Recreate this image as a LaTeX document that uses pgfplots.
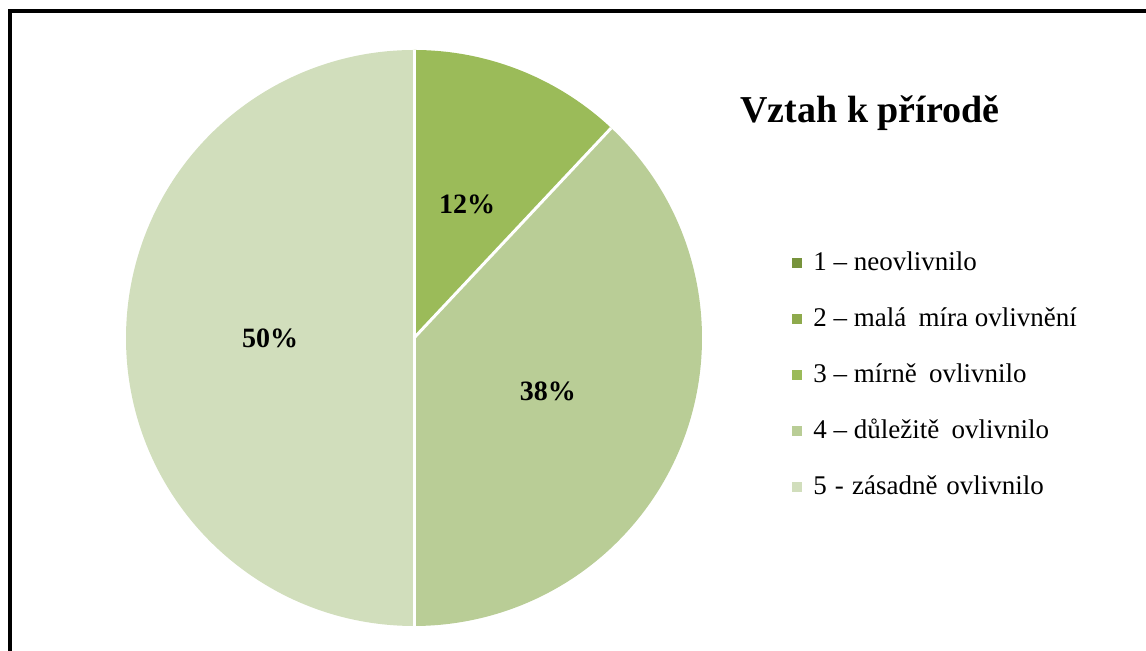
\documentclass[border=0pt]{standalone}
\usepackage{fontspec}
\setmainfont{Liberation Serif}
\usepackage{pgfplots}
\usepackage{pgfplotstable}
\pgfplotsset{compat=1.18}

\definecolor{c1}{HTML}{77933C}
\definecolor{c2}{HTML}{8EAA4C}
\definecolor{c3}{HTML}{9BBB59}
\definecolor{c4}{HTML}{B9CD96}
\definecolor{c5}{HTML}{D1DEBC}

% share of answers, in percent
\pgfplotstableread{
cat value
1 0
2 0
3 12
4 38
5 50
}\pietable

\newcommand\wsp{\hspace{0.45em}}

\begin{document}
\begin{tikzpicture}
\useasboundingbox (0,0) rectangle (573pt,325.5pt);

\pgfplotstablegetelem{2}{value}\of\pietable \let\vC\pgfplotsretval
\pgfplotstablegetelem{3}{value}\of\pietable \let\vD\pgfplotsretval
\pgfplotstablegetelem{4}{value}\of\pietable \let\vE\pgfplotsretval
% slices run clockwise from the top
\pgfmathsetmacro\aC{90}
\pgfmathsetmacro\bC{\aC-3.6*\vC}
\pgfmathsetmacro\bD{\bC-3.6*\vD}
\pgfmathsetmacro\bE{\bD-3.6*\vE}
\pgfmathsetmacro\mC{(\aC+\bC)/2}
\pgfmathsetmacro\mD{(\bC+\bD)/2}
\pgfmathsetmacro\mE{(\bD+\bE)/2}

\begin{axis}[
  hide axis,
  at={(0,0)}, anchor=south west,
  x=0.5pt, y=0.5pt,
  xmin=0, xmax=1146, ymin=0, ymax=651,
  clip=false,
  legend style={
    at={(0.6911,0.616)}, anchor=north west,
    draw=none, fill=none, inner sep=0pt,
    font=\fontsize{13.5}{15}\selectfont,
    nodes={inner sep=0pt, text height=10pt, text depth=3pt, anchor=west},
    row sep=15pt, column sep=5.5pt,
  },
  legend cell align=left,
  legend image code/.code={\fill[#1, draw=none] (0pt,-2.5pt) rectangle (5pt,2.5pt);},
]
% frame
\draw[line width=2pt] (axis cs:9.5,-40) -- (axis cs:9.5,639.5) -- (axis cs:1200,639.5);

\fill[c3] (axis cs:414,313) -- ++(\aC:144pt) arc[start angle=\aC, end angle=\bC, radius=144pt] -- cycle;
\fill[c4] (axis cs:414,313) -- ++(\bC:144pt) arc[start angle=\bC, end angle=\bD, radius=144pt] -- cycle;
\fill[c5] (axis cs:414,313) -- ++(\bD:144pt) arc[start angle=\bD, end angle=\bE, radius=144pt] -- cycle;
\draw[white, line width=1.5pt] (axis cs:414,313) -- ++(\aC:144pt);
\draw[white, line width=1.5pt] (axis cs:414,313) -- ++(\bC:144pt);
\draw[white, line width=1.5pt] (axis cs:414,313) -- ++(\bD:144pt);

\node[font=\bfseries\fontsize{14}{16}\selectfont] at (axis cs:{414+144*cos(\mC)},{313+144*sin(\mC)}) {\vC\%};
\node[font=\bfseries\fontsize{14}{16}\selectfont] at (axis cs:{414+144*cos(\mD)},{313+144*sin(\mD)}) {\vD\%};
\node[font=\bfseries\fontsize{14}{16}\selectfont] at (axis cs:{414+144*cos(\mE)},{313+144*sin(\mE)}) {\vE\%};

\node[font=\bfseries\fontsize{19}{22}\selectfont] at (axis cs:870,538) {Vztah k přírodě};

\addlegendimage{fill=c1}
\addlegendentry{1 – neovlivnilo}
\addlegendimage{fill=c2}
\addlegendentry{2 – malá\wsp míra ovlivnění}
\addlegendimage{fill=c3}
\addlegendentry{3 – mírně\wsp ovlivnilo}
\addlegendimage{fill=c4}
\addlegendentry{4 – důležitě\wsp ovlivnilo}
\addlegendimage{fill=c5}
\addlegendentry{5\hspace{0.3em}-\hspace{0.3em}zásadně\hspace{0.33em}ovlivnilo}
\end{axis}
\end{tikzpicture}
\end{document}
